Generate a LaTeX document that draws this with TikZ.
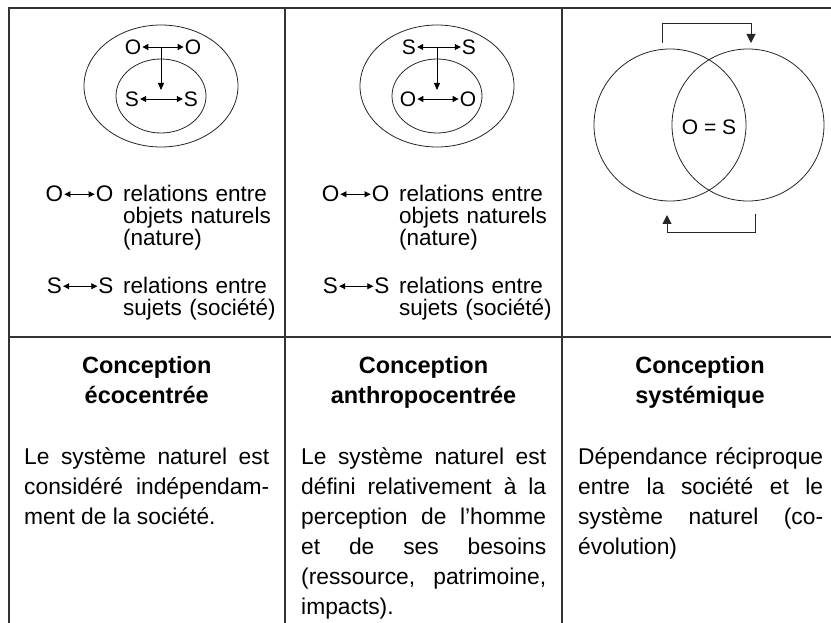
\documentclass[tikz,border=0pt]{standalone}
\usepackage{fontspec}
\setmainfont{Liberation Sans}
\usetikzlibrary{arrows.meta}
\hyphenpenalty=10000
\begin{document}
\begin{tikzpicture}[x=1pt,y=-1pt,
  frame/.style={line width=1.3pt, draw=black!80},
  ring/.style={line width=0.8pt, draw=black!85},
  glyph/.style={inner sep=1pt, font=\fontsize{21}{21}\selectfont},
  lglyph/.style={inner sep=1pt, anchor=base, font=\fontsize{22.5}{22.5}\selectfont},
  dbl/.style={line width=0.9pt, {Triangle[length=6pt,width=6pt]}-{Triangle[length=6pt,width=6pt]}},
  vdown/.style={line width=0.9pt, -{Triangle[length=7pt,width=6pt]}},
  cyc/.style={line width=1pt, draw=black!85, -{Triangle[length=9pt,width=9pt]}},
  legend/.style={anchor=base west, text width=158pt, align=left, inner sep=0pt, font=\fontsize{22.5}{22}\selectfont},
  body/.style={anchor=base west, text width=245pt, align=justify, inner sep=0pt, font=\fontsize{22.8}{30}\selectfont},
  head/.style={anchor=base, text width=245pt, align=center, inner sep=0pt, font=\fontsize{23.5}{30}\selectfont\bfseries}
]
\useasboundingbox (0,0) rectangle (831,623);
% frame
\draw[frame] (831,8) -- (9,8) -- (9,623);
\draw[frame] (285,8) -- (285,623);
\draw[frame] (562,8) -- (562,623);
\draw[frame] (9,337) -- (831,337);

% ---- column 1 : ecocentric
\draw[ring] (161,86) ellipse [x radius=77, y radius=61];
\draw[ring] (161,96) ellipse [x radius=45, y radius=37];
\node[glyph] (ao1) at (133,47) {O};
\node[glyph] (ao2) at (193,47) {O};
\node[glyph] (as1) at (132,99) {S};
\node[glyph] (as2) at (191,99) {S};
\draw[dbl] (ao1) -- (ao2);
\draw[dbl] (as1) -- (as2);
\coordinate (at) at (161,47);
\coordinate (ab) at (161,90);
\draw[vdown] (at) -- (ab);

\node[lglyph] (lo1) at (54.5,202) {O};
\node[lglyph] (lo2) at (104.5,202) {O};
\draw[dbl] (lo1) -- (lo2);
\node[legend] (lt1) at (123,202) {relations entre\\objets naturels\\(nature)};
\node[lglyph] (ls1) at (54.5,294) {S};
\node[lglyph] (ls2) at (106,294) {S};
\draw[dbl] (ls1) -- (ls2);
\node[legend] (lt2) at (123,294) {relations entre\\sujets (société)};

% ---- column 2 : anthropocentric
\draw[ring] (437,86) ellipse [x radius=77, y radius=61];
\draw[ring] (437,96) ellipse [x radius=45, y radius=37];
\node[glyph] (bs1) at (409,47) {S};
\node[glyph] (bs2) at (469,47) {S};
\node[glyph] (bo1) at (408,99) {O};
\node[glyph] (bo2) at (468,99) {O};
\draw[dbl] (bs1) -- (bs2);
\draw[dbl] (bo1) -- (bo2);
\coordinate (bt) at (437,47);
\coordinate (bb) at (437,90);
\draw[vdown] (bt) -- (bb);

\node[lglyph] (mo1) at (330.5,202) {O};
\node[lglyph] (mo2) at (380.5,202) {O};
\draw[dbl] (mo1) -- (mo2);
\node[legend] (mt1) at (399,202) {relations entre\\objets naturels\\(nature)};
\node[lglyph] (ms1) at (330.5,294) {S};
\node[lglyph] (ms2) at (382,294) {S};
\draw[dbl] (ms1) -- (ms2);
\node[legend] (mt2) at (399,294) {relations entre\\sujets (société)};

% ---- column 3 : systemic
\node[circle, ring, minimum size=152pt, inner sep=0pt] (cl) at (670,125) {};
\node[circle, ring, minimum size=152pt, inner sep=0pt] (cr) at (748,125) {};
\node[glyph] (eq) at (709,127) {O = S};
\coordinate (ta) at (662,43);
\coordinate (tb) at (751,43);
\draw[cyc] (ta) -- ++(0,-19) -| (tb);
\coordinate (ua) at (755,214);
\coordinate (ub) at (667,215);
\draw[cyc] (ua) -- ++(0,19) -| (ub);

% ---- headers
\node[head] (h1) at (146.75,373) {Conception\\écocentrée};
\node[head] (h2) at (423.5,373) {Conception\\anthropocentrée};
\node[head] (h3) at (700,373) {Conception\\systémique};

% ---- body texts
\node[body] (t1) at (24,464) {Le système naturel est\linebreak considéré indépendam-\linebreak ment de la société.};
\node[body] (t2) at (301,464) {Le système naturel est\linebreak défini relativement à la\linebreak perception de l’homme\linebreak et de ses besoins\linebreak (ressource, patrimoine,\linebreak impacts).};
\node[body] (t3) at (578,464) {Dépendance réciproque\linebreak entre la société et le\linebreak système naturel (co-\linebreak évolution)};
\end{tikzpicture}
\end{document}
